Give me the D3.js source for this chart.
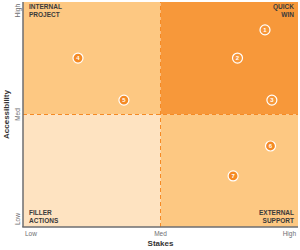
<!DOCTYPE html>
<html>
<head>
<meta charset="utf-8">
<script src="https://cdn.jsdelivr.net/npm/d3@7"></script>
<style>
  html, body { margin: 0; padding: 0; background: #fff; }
  svg { display: block; font-family: "Liberation Sans", Arial, sans-serif; }
</style>
</head>
<body>
<div id="chart"></div>
<script>
// Priority matrix: stakes vs accessibility, seven numbered items.
const itemIds = [1, 2, 3, 4, 5, 6, 7];
const stakes = [0.88, 0.78, 0.905, 0.2, 0.367, 0.9, 0.764];
const access = [0.876, 0.751, 0.564, 0.751, 0.564, 0.36, 0.227];
const tickLabels = ['Low', 'Med', 'High'];
const quadrantLabels = [
    { lines: ['INTERNAL', 'PROJECT'], corner: 'tl' },
    { lines: ['QUICK', 'WIN'], corner: 'tr' },
    { lines: ['FILLER', 'ACTIONS'], corner: 'bl' },
    { lines: ['EXTERNAL', 'SUPPORT'], corner: 'br' },
];

const W = 300, H = 250;
const m = { top: 2, right: 2, bottom: 23, left: 23 };

const svg = d3.select('#chart').append('svg').attr('width', W).attr('height', H);

const x = d3.scaleLinear().domain([0, 1]).range([m.left, W - m.right]);
const y = d3.scaleLinear().domain([0, 1]).range([H - m.bottom, m.top]);

// quadrant fills
const quads = [
    { x0: 0, x1: 0.5, y0: 0.5, y1: 1, fill: '#fdc882' },
    { x0: 0.5, x1: 1, y0: 0.5, y1: 1, fill: '#f7983a' },
    { x0: 0, x1: 0.5, y0: 0, y1: 0.5, fill: '#fee3c1' },
    { x0: 0.5, x1: 1, y0: 0, y1: 0.5, fill: '#fdc882' },
];
svg.selectAll('rect.quad').data(quads).join('rect')
    .attr('class', 'quad')
    .attr('x', (d) => x(d.x0)).attr('y', (d) => y(d.y1))
    .attr('width', (d) => x(d.x1) - x(d.x0))
    .attr('height', (d) => y(d.y0) - y(d.y1))
    .attr('fill', (d) => d.fill);

// dashed midlines
svg.append('line')
    .attr('x1', x(0.5)).attr('x2', x(0.5)).attr('y1', y(0)).attr('y2', y(1))
    .attr('stroke', '#f58a24').attr('stroke-width', 1).attr('stroke-dasharray', '4 3');
svg.append('line')
    .attr('x1', x(0)).attr('x2', x(1)).attr('y1', y(0.5)).attr('y2', y(0.5))
    .attr('stroke', '#f58a24').attr('stroke-width', 1).attr('stroke-dasharray', '4 3');

// axes lines
svg.append('line')
    .attr('x1', x(0)).attr('x2', x(0)).attr('y1', y(1)).attr('y2', y(0))
    .attr('stroke', '#6d6e71').attr('stroke-width', 1.5);
svg.append('line')
    .attr('x1', x(0) - 0.75).attr('x2', x(1)).attr('y1', y(0)).attr('y2', y(0))
    .attr('stroke', '#6d6e71').attr('stroke-width', 1.5);

// tick labels
const tickPos = [0, 0.5, 1];
const anchors = ['start', 'middle', 'end'];
svg.selectAll('text.xt').data(tickLabels).join('text')
    .attr('class', 'xt')
    .attr('x', (d, i) => x(tickPos[i]) + (i === 0 ? 2 : i === 2 ? -2 : 0))
    .attr('y', y(0) + 9)
    .attr('text-anchor', (d, i) => anchors[i])
    .attr('font-size', 6.5).attr('fill', '#6d6e71')
    .text((d) => d);
svg.selectAll('text.yt').data(tickLabels).join('text')
    .attr('class', 'yt')
    .attr('transform', (d, i) => `translate(${x(0) - 3},${y(tickPos[i]) + (i === 0 ? -2 : i === 2 ? 2 : 0)}) rotate(-90)`)
    .attr('text-anchor', (d, i) => anchors[i])
    .attr('font-size', 6.5).attr('fill', '#6d6e71')
    .text((d) => d);

// axis titles
svg.append('text')
    .attr('x', x(0.5)).attr('y', H - 4)
    .attr('text-anchor', 'middle')
    .attr('font-size', 8).attr('font-weight', 'bold').attr('fill', '#333')
    .text('Stakes');
svg.append('text')
    .attr('transform', `translate(9,${y(0.5)}) rotate(-90)`)
    .attr('text-anchor', 'middle')
    .attr('font-size', 8).attr('font-weight', 'bold').attr('fill', '#333')
    .text('Accessibility');

// quadrant labels
quadrantLabels.forEach((q) => {
    const right = q.corner[1] === 'r';
    const bottom = q.corner[0] === 'b';
    const tx = right ? x(1) - 4 : x(0) + 6;
    const ty = bottom ? y(0) - 12 : y(1) + 7;
    const t = svg.append('text')
        .attr('x', tx).attr('y', ty)
        .attr('text-anchor', right ? 'end' : 'start')
        .attr('font-size', 6.5).attr('font-weight', 'bold').attr('fill', '#3a3a3a');
    q.lines.forEach((line, i) => {
        t.append('tspan').attr('x', tx).attr('dy', i === 0 ? 0 : 7.5).text(line);
    });
});

// numbered markers
const pts = itemIds.map((id, i) => ({ id, sx: stakes[i], ay: access[i] }));
const inHot = (d) => d.sx > 0.5 && d.ay > 0.5;
const g = svg.selectAll('g.pt').data(pts).join('g')
    .attr('class', 'pt')
    .attr('transform', (d) => `translate(${x(d.sx)},${y(d.ay)})`);
g.append('circle')
    .attr('r', 5)
    .attr('fill', (d) => (inHot(d) ? 'none' : '#f58a24'))
    .attr('stroke', '#fff').attr('stroke-width', 1.2);
g.append('text')
    .attr('text-anchor', 'middle').attr('dy', 2.2)
    .attr('font-size', 6).attr('font-weight', 'bold').attr('fill', '#fff')
    .text((d) => d.id);
</script>
</body>
</html>
